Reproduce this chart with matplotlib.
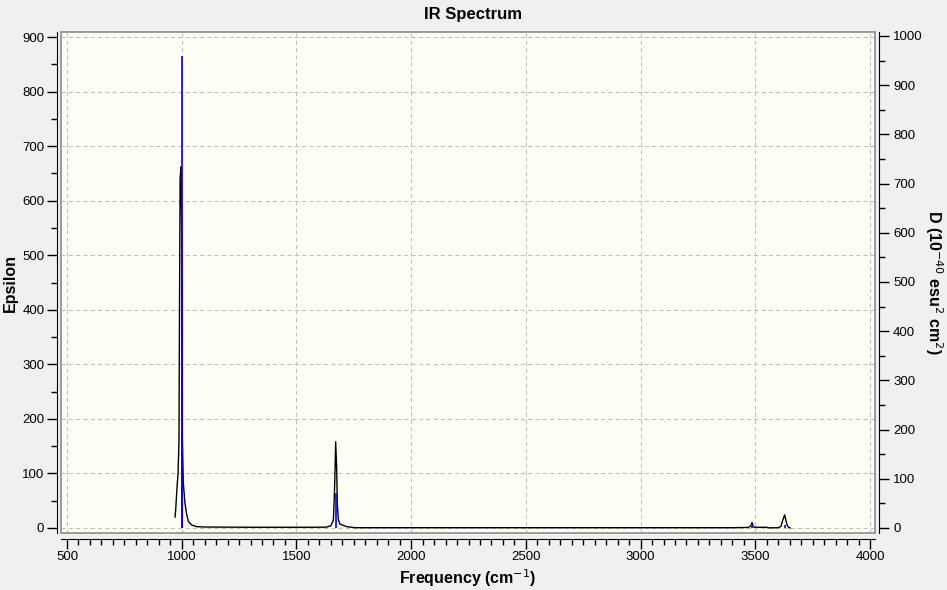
import matplotlib
matplotlib.use('Agg')
import matplotlib.pyplot as plt
from matplotlib.patches import Rectangle
from matplotlib.ticker import MultipleLocator

plt.rcParams['font.family'] = ['Liberation Sans', 'DejaVu Sans']

# broadened spectrum (frequency in cm-1, epsilon)
freq = [971, 974, 979.5, 984, 988, 990.5, 993, 997, 1001, 1002.6, 1007, 1014,
        1022, 1029, 1043, 1065, 1100, 1300, 1550, 1630, 1650, 1661, 1665, 1668,
        1671, 1675.6, 1678, 1682.6, 1690, 1703, 1719, 1755, 3400, 3470, 3480,
        3486, 3491, 3496, 3550, 3555, 3600, 3612, 3620, 3628, 3633, 3639, 3645,
        3652]
eps = [20, 35, 75, 100, 158, 421, 641, 662, 500, 167, 82, 46,
       24, 12, 5.5, 2.4, 1.8, 1.3, 1.3, 1.5, 4, 14.6, 57, 100,
       158, 106, 46, 15, 7, 5, 2.4, 0.5, 0.5, 1.0, 4,
       9.7, 3, 1.3, 1.3, 0.3, 0.5, 3, 14.7, 24, 15, 5, 1.3,
       0]

# stick spectrum (frequency, D in 10^-40 esu^2 cm^2)
stick_freq = [1000, 1003, 1674, 3486, 3628]
stick_d = [959, 498, 71, 5, 7]

fig = plt.figure(figsize=(9.47, 5.90), dpi=100)
fig.patch.set_facecolor('#f0f0f0')
W, H = 947, 590
ax = fig.add_axes([61 / W, 1 - 533 / H, (875 - 61) / W, (533 - 32) / H])
ax.set_facecolor('#fffff7')

ax.set_xlim(473.8, 4021.8)
ax.set_ylim(-9.2, 909.2)

ax.grid(True, which='major', color='#c0c0c0', linestyle=(0, (4, 3)), linewidth=0.75)
ax.set_axisbelow(True)

ax.plot(freq, eps, color='black', linewidth=1)

ax2 = ax.twinx()
ax2.set_ylim(-10.2, 1008)
ax2.vlines(stick_freq, 0, stick_d, color='#0000ff', linewidth=1.2)

# gray frame around plot area
ax.add_patch(Rectangle((0, 0), 1, 1, transform=ax.transAxes, fill=False,
                       edgecolor='#8c8c8c', linewidth=1.2, clip_on=False, zorder=5))

for a in (ax, ax2):
    a.spines['top'].set_visible(False)
    for s in ('left', 'right', 'bottom'):
        a.spines[s].set_color('black')
ax.spines['right'].set_visible(False)
ax2.spines['left'].set_visible(False)
ax2.spines['bottom'].set_visible(False)
ax.spines['left'].set_position(('outward', 3))
ax.spines['bottom'].set_position(('outward', 4))
ax2.spines['right'].set_position(('outward', 3))

ax.xaxis.set_major_locator(MultipleLocator(500))
ax.xaxis.set_minor_locator(MultipleLocator(50))
ax.yaxis.set_major_locator(MultipleLocator(100))
ax.yaxis.set_minor_locator(MultipleLocator(50))
ax2.yaxis.set_major_locator(MultipleLocator(100))
ax2.yaxis.set_minor_locator(MultipleLocator(50))

for a in (ax, ax2):
    a.tick_params(which='major', length=7, width=1, labelsize=9.5, color='black', pad=2)
    a.tick_params(which='minor', length=4, width=1, color='black')
ax2.tick_params(which='major', pad=3)

ax.set_xlabel('Frequency (cm$^{-1}$)', fontsize=11.5, fontweight='bold', labelpad=3)
ax.set_ylabel('Epsilon', fontsize=11.5, fontweight='bold', labelpad=3)
ax2.set_ylabel('D (10$^{-40}$ esu$^{2}$ cm$^{2}$)', fontsize=11.5, fontweight='bold',
               rotation=270, labelpad=16)
fig.text(473 / W, 1 - 14 / H, 'IR Spectrum', ha='center', va='center',
         fontsize=12, fontweight='bold')

fig.savefig('out.png', dpi=100, facecolor=fig.get_facecolor())
